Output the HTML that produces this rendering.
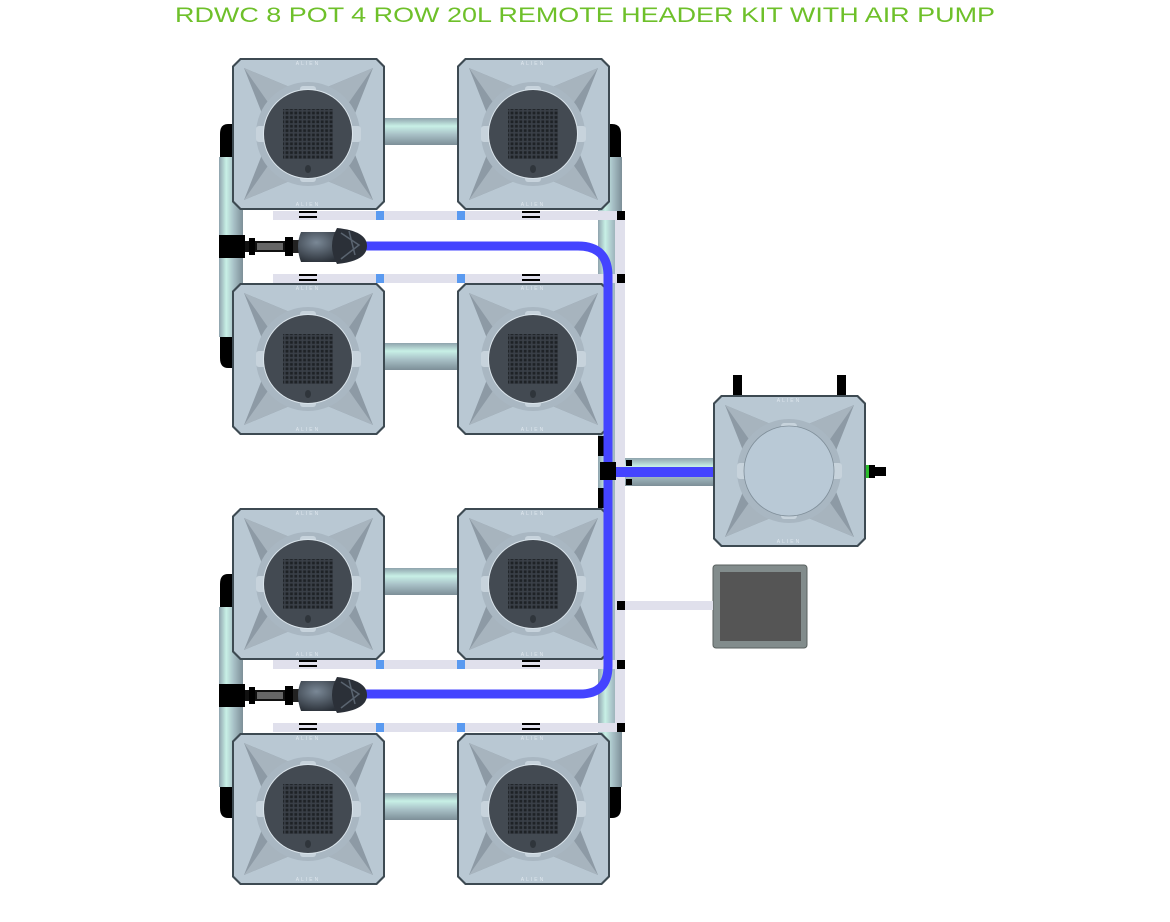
<!DOCTYPE html>
<html><head><meta charset="utf-8"><style>
html,body{margin:0;padding:0;background:#fff;}
svg{display:block;}
</style></head><body>
<svg width="1170" height="922" viewBox="0 0 1170 922" xmlns="http://www.w3.org/2000/svg">
<defs>
<linearGradient id="pv" x1="0" x2="1" y1="0" y2="0">
<stop offset="0" stop-color="#8fa3ad"/><stop offset="0.3" stop-color="#c8f0e6"/><stop offset="0.6" stop-color="#a9c2c8"/><stop offset="1" stop-color="#7d8f98"/></linearGradient>
<linearGradient id="ph" x1="0" x2="0" y1="0" y2="1">
<stop offset="0" stop-color="#8fa3ad"/><stop offset="0.3" stop-color="#c8f0e6"/><stop offset="0.6" stop-color="#a9c2c8"/><stop offset="1" stop-color="#7d8f98"/></linearGradient>
<radialGradient id="pmp" cx="0.4" cy="0.35" r="0.7"><stop offset="0" stop-color="#7a8896"/><stop offset="1" stop-color="#2a3038"/></radialGradient>
<pattern id="grid" width="4.4" height="4.4" patternUnits="userSpaceOnUse"><rect width="4.4" height="4.4" fill="#3a4048"/><rect x="0.8" y="0.8" width="2.8" height="2.8" fill="#1e2226"/></pattern>
<g id="pot">
<path d="M8,0 H145 L153,8 V144 L145,152 H8 L0,144 V8 Z" fill="#3d4a52"/>
<path d="M9,2 H144 L151,9 V143 L144,150 H9 L2,143 V9 Z" fill="#b9c8d3"/>
<path d="M12,10 L60,30 L76,24 L93,30 L141,10 L122,58 L128,76 L122,94 L141,142 L93,122 L76,128 L60,122 L12,142 L31,94 L25,76 L31,58 Z" fill="#8d9aa5"/>
<path d="M12,10 L60,30 L40,50 Z M141,10 L93,30 L113,50 Z M12,142 L40,102 L60,122 Z M141,142 L113,102 L93,122 Z" fill="#a7b4be"/>
<circle cx="76" cy="76" r="52" fill="#a9b7c2"/>
<rect x="68" y="28" width="16" height="18" rx="3" fill="#c7d3dc"/>
<rect x="68" y="106" width="16" height="18" rx="3" fill="#c7d3dc"/>
<rect x="24" y="68" width="18" height="16" rx="3" fill="#c7d3dc"/>
<rect x="111" y="68" width="18" height="16" rx="3" fill="#c7d3dc"/>
<text x="76" y="7" font-size="5" fill="#dfe7ee" text-anchor="middle" font-family="Liberation Sans, sans-serif" letter-spacing="2">ALIEN</text>
<text x="76" y="148" font-size="5" fill="#dfe7ee" text-anchor="middle" font-family="Liberation Sans, sans-serif" letter-spacing="2">ALIEN</text>
</g>
<g id="net">
<circle cx="76" cy="76" r="45" fill="#dbe5ec"/>
<circle cx="76" cy="76" r="44" fill="#434a52"/>
<rect x="51" y="51" width="50" height="50" fill="url(#grid)"/>
<ellipse cx="76" cy="111" rx="3" ry="4" fill="#2f353b"/>
</g>
<g id="stone">
<rect x="0" y="0" width="26" height="23" fill="#000"/>
<rect x="26" y="6" width="10" height="11" fill="#111"/>
<rect x="30" y="3" width="6" height="17" fill="#000"/>
<rect x="36" y="6" width="30" height="11" fill="#111"/>
<rect x="38" y="8" width="26" height="7" fill="#666"/>
<rect x="66" y="2" width="8" height="19" fill="#000"/>
<rect x="74" y="5" width="6" height="13" fill="#222"/>
<path d="M82,-3 H120 Q130,11 120,27 H82 Q76,11 82,-3 Z" fill="url(#pmp)"/>
<path d="M118,-7 Q148,-4 148,11 Q148,26 118,29 Q108,11 118,-7 Z" fill="#2b3038"/>
<path d="M122,-2 L140,10 L122,24 M130,-4 L136,20" stroke="#5a6470" stroke-width="1.5" fill="none"/>
</g>
</defs>

<text x="585" y="22" font-family="Liberation Sans, sans-serif" font-size="21" fill="#6ec02a" text-anchor="middle" textLength="820" lengthAdjust="spacingAndGlyphs">RDWC 8 POT 4 ROW 20L REMOTE HEADER KIT WITH AIR PUMP</text>

<!-- left pipes -->
<g>
<path d="M232,124 H228 Q220,124 220,134 V157 H232 Z" fill="#000"/>
<rect x="219" y="157" width="24" height="180" fill="url(#pv)"/>
<path d="M220,337 H232 V368 H228 Q220,368 220,358 Z" fill="#000"/>
<path d="M232,574 H228 Q220,574 220,584 V607 H232 Z" fill="#000"/>
<rect x="219" y="607" width="24" height="180" fill="url(#pv)"/>
<path d="M220,787 H232 V818 H228 Q220,818 220,808 Z" fill="#000"/>
</g>
<!-- right pipes -->
<path d="M609,124 H612 Q621,124 621,134 V157 H609 Z" fill="#000"/>
<path d="M609,574 H612 Q621,574 621,584 V607 H609 Z" fill="#000"/>
<path d="M609,787 H621 V808 Q621,818 612,818 H609 Z" fill="#000"/>
<rect x="598" y="157" width="24" height="630" fill="url(#pv)"/>
<rect x="598" y="436" width="12" height="20" fill="#000"/>
<rect x="598" y="488" width="12" height="20" fill="#000"/>
<rect x="598" y="336" width="12" height="20" fill="#000"/>
<!-- horizontal pipes between pots -->
<rect x="380" y="118" width="82" height="27" fill="url(#ph)"/>
<rect x="380" y="343" width="82" height="27" fill="url(#ph)"/>
<rect x="380" y="568" width="82" height="27" fill="url(#ph)"/>
<rect x="380" y="793" width="82" height="27" fill="url(#ph)"/>
<rect x="625" y="458" width="92" height="28" fill="url(#ph)"/>

<!-- pots -->
<use href="#pot" x="232" y="58"/><use href="#net" x="232" y="58"/>
<use href="#pot" x="457" y="58"/><use href="#net" x="457" y="58"/>
<use href="#pot" x="232" y="283"/><use href="#net" x="232" y="283"/>
<use href="#pot" x="457" y="283"/><use href="#net" x="457" y="283"/>
<use href="#pot" x="232" y="508"/><use href="#net" x="232" y="508"/>
<use href="#pot" x="457" y="508"/><use href="#net" x="457" y="508"/>
<use href="#pot" x="232" y="733"/><use href="#net" x="232" y="733"/>
<use href="#pot" x="457" y="733"/><use href="#net" x="457" y="733"/>

<!-- reservoir -->
<rect x="733" y="375" width="9" height="24" fill="#000"/>
<rect x="837" y="375" width="9" height="24" fill="#000"/>
<use href="#pot" x="713" y="395"/>
<circle cx="789" cy="471" r="45" fill="#b9c9d6" stroke="#7f8e99" stroke-width="0.8"/>
<rect x="866" y="465" width="3" height="13" fill="#2bbd2b"/>
<rect x="869" y="465" width="6" height="13" fill="#000"/>
<rect x="875" y="467" width="11" height="9" fill="#000"/>
<!-- pump box -->
<rect x="713" y="565" width="94" height="83" rx="3" fill="#828c8c" stroke="#59615f" stroke-width="1"/>
<rect x="720" y="572" width="81" height="69" fill="#555"/>

<!-- air lines -->
<g fill="#e0e0ec">
<rect x="273" y="211" width="350" height="9"/>
<rect x="273" y="274" width="350" height="9"/>
<rect x="273" y="660" width="350" height="9"/>
<rect x="273" y="723" width="350" height="9"/>
<rect x="615" y="211" width="10" height="521"/>
<rect x="625" y="601" width="88" height="9"/>
</g>
<g fill="#5a9af0">
<rect x="376" y="211" width="8" height="9"/><rect x="457" y="211" width="8" height="9"/>
<rect x="376" y="274" width="8" height="9"/><rect x="457" y="274" width="8" height="9"/>
<rect x="376" y="660" width="8" height="9"/><rect x="457" y="660" width="8" height="9"/>
<rect x="376" y="723" width="8" height="9"/><rect x="457" y="723" width="8" height="9"/>
</g>
<g fill="#000">
<rect x="617" y="211" width="8" height="9"/><rect x="617" y="274" width="8" height="9"/>
<rect x="617" y="660" width="8" height="9"/><rect x="617" y="723" width="8" height="9"/>
<rect x="617" y="601" width="8" height="9"/>
<rect x="299" y="211" width="18" height="2"/><rect x="299" y="216" width="18" height="2"/>
<rect x="522" y="211" width="18" height="2"/><rect x="522" y="216" width="18" height="2"/>
<rect x="299" y="274" width="18" height="2"/><rect x="299" y="279" width="18" height="2"/>
<rect x="522" y="274" width="18" height="2"/><rect x="522" y="279" width="18" height="2"/>
<rect x="299" y="660" width="18" height="2"/><rect x="299" y="665" width="18" height="2"/>
<rect x="522" y="660" width="18" height="2"/><rect x="522" y="665" width="18" height="2"/>
<rect x="299" y="723" width="18" height="2"/><rect x="299" y="728" width="18" height="2"/>
<rect x="522" y="723" width="18" height="2"/><rect x="522" y="728" width="18" height="2"/>
</g>

<!-- blue line -->
<path d="M360,246 H578 Q608,246 608,276 V666 Q608,694 580,694 H360" fill="none" stroke="#4444ff" stroke-width="9"/>
<rect x="608" y="467" width="105" height="10" fill="#4444ff"/>
<rect x="600" y="462" width="16" height="18" fill="#000"/>
<rect x="626" y="460" width="6" height="6" fill="#000"/>
<rect x="626" y="479" width="6" height="6" fill="#000"/>

<!-- air stones -->
<use href="#stone" x="219" y="235"/>
<use href="#stone" x="219" y="684"/>
</svg>
</body></html>
